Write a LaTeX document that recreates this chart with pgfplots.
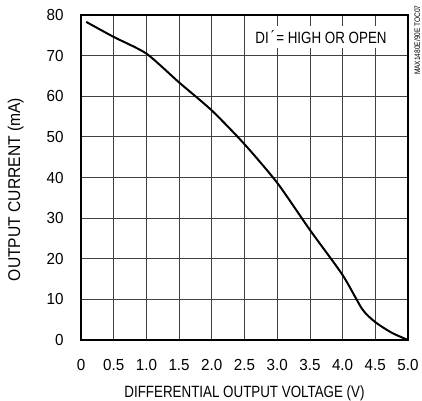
\documentclass[border=0pt]{standalone}
\usepackage{pgfplots}
\pgfplotsset{compat=1.18}
\usepackage{fontspec}
\setmainfont{Liberation Sans}[FakeStretch=0.82]
\newfontfamily\tickfont{Liberation Sans}[FakeStretch=0.95]
\newfontfamily\ylabfont{Liberation Sans}[FakeStretch=0.92]
\begin{document}
\begin{tikzpicture}
\path[use as bounding box] (-81pt,-60pt) rectangle (341pt,340pt);
\begin{axis}[
    scale only axis,
    width=327pt, height=325pt,
    xmin=0, xmax=5, ymin=0, ymax=80,
    xtick={0,0.5,...,5},
    xticklabels={0,0.5,1.0,1.5,2.0,2.5,3.0,3.5,4.0,4.5,5.0},
    ytick={0,10,...,80},
    /pgf/number format/assume math mode=true,
    tick label style={font=\tickfont\fontsize{16}{18}\selectfont},
    xticklabel style={yshift=-16pt},
    yticklabel style={xshift=-14pt},
    xlabel={DIFFERENTIAL OUTPUT VOLTAGE (V)},
    ylabel={OUTPUT CURRENT (mA)},
    xlabel style={font=\fontsize{16.3}{18}\selectfont, yshift=-8pt},
    ylabel style={font=\ylabfont\fontsize{17}{19}\selectfont, yshift=16pt, xshift=-12pt},
    grid=major,
    major grid style={black!75, line width=0.8pt},
    major tick length=0pt,
    axis line style={line width=2.2pt},
    clip=false,
]
\addplot[black, line width=2pt, smooth, tension=0.4] coordinates {
(0.08,78.3)(0.5,74.6)(1.0,70.5)(1.5,63.4)(2.0,56.5)(2.5,48.2)(3.0,38.7)
(3.5,27.1)(4.0,16.0)(4.3,7.6)(4.5,4.4)(4.75,1.8)(5.0,0)};
\node[fill=white, inner sep=4pt, font=\fontsize{16.3}{18}\selectfont]
  at (axis cs:3.67,74.6) {DI\kern2pt\raisebox{1pt}{´}\kern1pt= HIGH OR OPEN};
\node[rotate=90, font=\fontsize{8}{9}\selectfont]
  at (axis cs:5.14,73.8) {MAX1480E/90E TOC07};
\end{axis}
\end{tikzpicture}
\end{document}
